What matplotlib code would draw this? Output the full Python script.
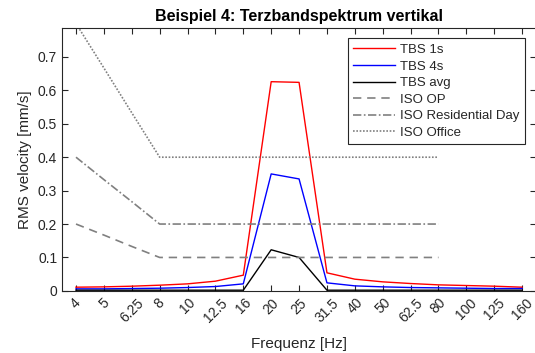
import numpy as np
import matplotlib
matplotlib.use("Agg")
import matplotlib.pyplot as plt

plt.rcParams['font.family'] = ['Liberation Sans', 'DejaVu Sans']

# Terzbänder und Messwerte
freqs = ["4", "5", "6.25", "8", "10", "12.5", "16", "20", "25", "31.5",
         "40", "50", "62.5", "80", "100", "125", "160"]
tbs_1s = [0.011, 0.012, 0.014, 0.017, 0.021, 0.029, 0.047, 0.626, 0.624, 0.054,
          0.035, 0.027, 0.022, 0.018, 0.016, 0.014, 0.011]
tbs_4s = [0.006, 0.006, 0.007, 0.008, 0.010, 0.013, 0.021, 0.350, 0.335, 0.024,
          0.015, 0.012, 0.010, 0.009, 0.008, 0.007, 0.007]
tbs_avg = [0.002, 0.002, 0.002, 0.002, 0.002, 0.002, 0.002, 0.123, 0.100, 0.002,
           0.002, 0.002, 0.002, 0.002, 0.002, 0.002, 0.002]

# ISO-Grenzkurven (4 Hz bis 80 Hz)
iso_freqs = freqs[:14]
iso_op = [0.2, 0.167, 0.133, 0.1, 0.1, 0.1, 0.1, 0.1, 0.1, 0.1, 0.1, 0.1, 0.1, 0.1]
iso_res_day = [0.4, 0.333, 0.267, 0.2, 0.2, 0.2, 0.2, 0.2, 0.2, 0.2, 0.2, 0.2, 0.2, 0.2]
iso_office = [0.8, 0.667, 0.533, 0.4, 0.4, 0.4, 0.4, 0.4, 0.4, 0.4, 0.4, 0.4, 0.4, 0.4]

x = np.arange(1, len(freqs) + 1)
x_iso = np.arange(1, len(iso_freqs) + 1)

fig = plt.figure(figsize=(5.35, 3.53), dpi=100)
ax = fig.add_axes([0.116, 0.176, 0.886, 0.745])

ax.plot(x, tbs_1s, color="red", lw=1, label="TBS 1s")
ax.plot(x, tbs_4s, color="blue", lw=1, label="TBS 4s")
ax.plot(x, tbs_avg, color="black", lw=1, label="TBS avg")
grey = "#808080"
ax.plot(x_iso, iso_op, color=grey, lw=1.2, ls=(0, (5, 3.5)), label="ISO OP")
ax.plot(x_iso, iso_res_day, color=grey, lw=1.2, ls=(0, (5, 1.5, 1, 1.5)), label="ISO Residential Day")
ax.plot(x_iso, iso_office, color=grey, lw=1.2, ls=(0, (1, 1)), label="ISO Office")

ax.set_xlim(0.5, 17.5)
ax.set_ylim(0, 0.787)
ax.set_xticks(x)
ax.set_xticklabels(freqs, rotation=45, ha="center", va="top")
ax.set_yticks([0, 0.1, 0.2, 0.3, 0.4, 0.5, 0.6, 0.7])
ax.set_yticklabels(["0", "0.1", "0.2", "0.3", "0.4", "0.5", "0.6", "0.7"])

txt = "#262626"
ax.tick_params(direction="in", top=True, right=True, length=4, width=0.8,
               colors=txt, labelsize=10)
for s in ax.spines.values():
    s.set_color(txt)
    s.set_linewidth(0.8)

ax.set_xlabel("Frequenz [Hz]", fontsize=11, color=txt, labelpad=9)
ax.set_ylabel("RMS velocity [mm/s]", fontsize=11, color=txt)
ax.set_title("Beispiel 4: Terzbandspektrum vertikal", fontsize=11.5,
             fontweight="bold", pad=5)

leg = ax.legend(loc="upper right", bbox_to_anchor=(0.99, 0.985), fontsize=9.5,
                fancybox=False, edgecolor=txt, framealpha=1, handlelength=3.2,
                handletextpad=0.35, labelspacing=0.33, borderpad=0.4)
leg.get_frame().set_linewidth(0.8)
for t in leg.get_texts():
    t.set_color(txt)

fig.savefig("out.png", dpi=100)
